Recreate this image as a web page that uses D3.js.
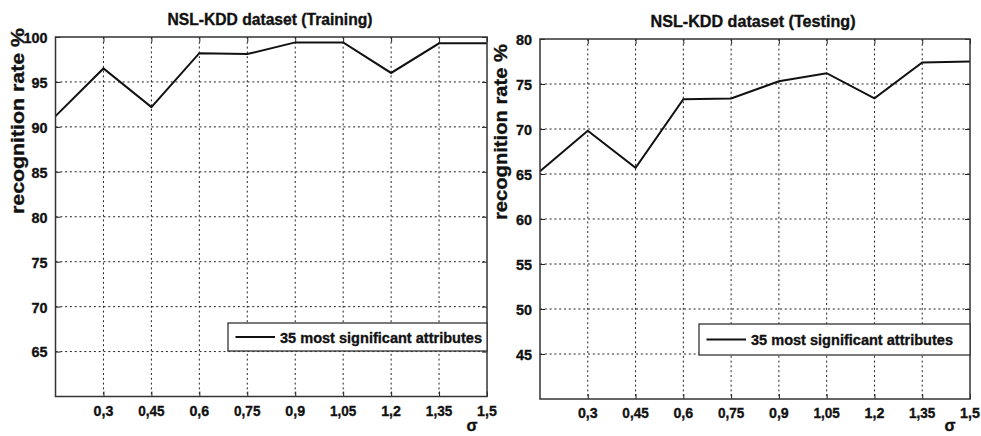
<!DOCTYPE html>
<html>
<head>
<meta charset="utf-8">
<script src="https://cdn.jsdelivr.net/npm/d3@7"></script>
<style>
  html, body { margin: 0; padding: 0; background: #fff; }
  svg { display: block; }
  text { font-family: "Liberation Sans", Arial, sans-serif; font-weight: bold; fill: #111; stroke: #111; stroke-width: 0.35px; }
</style>
</head>
<body>
<svg id="chart" width="981" height="436"></svg>
<script>
// ---- data ----
const sigma = [0.15, 0.3, 0.45, 0.6, 0.75, 0.9, 1.05, 1.2, 1.35, 1.5];
const xTickValues = [0.3, 0.45, 0.6, 0.75, 0.9, 1.05, 1.2, 1.35, 1.5];
const xTickLabels = ["0,3", "0,45", "0,6", "0,75", "0,9", "1,05", "1,2", "1,35", "1,5"];
const trainRate = [91.2, 96.5, 92.2, 98.2, 98.1, 99.4, 99.4, 96.0, 99.3, 99.3];
const testRate  = [65.3, 69.8, 65.7, 73.3, 73.4, 75.3, 76.2, 73.4, 77.4, 77.5];
const trainYTicks = [65, 70, 75, 80, 85, 90, 95, 100];
const testYTicks  = [45, 50, 55, 60, 65, 70, 75, 80];
const trainYDomain = [60, 100];
const testYDomain  = [40, 80];
const titles = ["NSL-KDD dataset (Training)", "NSL-KDD dataset (Testing)"];
const yLabel = "recognition rate %";
const xLabel = "σ";
const legendLabel = "35 most significant attributes";

const svg = d3.select("#chart");

const panels = [
  { title: titles[0], values: trainRate, yDomain: trainYDomain, yTicks: trainYTicks,
    left: 55.5, right: 487, top: 37, bottom: 396.5,
    titleX: 270, titleY: 25, yLabelX: 24, yLabelY: 121, yLabelLen: 186,
    legend: { x0: 228, x1: 487, y0: 323, y1: 351 }, sigmaX: 472, sigmaY: 431 },
  { title: titles[1], values: testRate, yDomain: testYDomain, yTicks: testYTicks,
    left: 540, right: 970, top: 39, bottom: 399,
    titleX: 753, titleY: 26.5, yLabelX: 507, yLabelY: 132, yLabelLen: 176,
    legend: { x0: 699, x1: 970, y0: 324, y1: 355 }, sigmaX: 950, sigmaY: 431 }
];

panels.forEach(p => {
  const x = d3.scaleLinear().domain([0.15, 1.5]).range([p.left, p.right]);
  const y = d3.scaleLinear().domain(p.yDomain).range([p.bottom, p.top]);
  const g = svg.append("g");

  // grid (dotted)
  g.append("g").selectAll("line").data(xTickValues.slice(0, -1)).join("line")
    .attr("x1", d => x(d)).attr("x2", d => x(d))
    .attr("y1", p.top).attr("y2", p.bottom)
    .attr("stroke", "#222").attr("stroke-width", 1).attr("stroke-dasharray", "2,2.8");
  g.append("g").selectAll("line").data(p.yTicks.filter(v => v < p.yDomain[1])).join("line")
    .attr("x1", p.left).attr("x2", p.right)
    .attr("y1", d => y(d)).attr("y2", d => y(d))
    .attr("stroke", "#222").attr("stroke-width", 1).attr("stroke-dasharray", "2,2.8");

  // inner tick marks (MATLAB style)
  const xAxisB = d3.axisBottom(x).tickValues(xTickValues).tickSizeInner(-5).tickSizeOuter(0).tickFormat("");
  g.append("g").attr("transform", `translate(0,${p.bottom})`).call(xAxisB)
    .call(s => s.select(".domain").remove())
    .call(s => s.selectAll("line").attr("stroke", "#222"));
  const xAxisT = d3.axisTop(x).tickValues(xTickValues).tickSizeInner(-5).tickSizeOuter(0).tickFormat("");
  g.append("g").attr("transform", `translate(0,${p.top})`).call(xAxisT)
    .call(s => s.select(".domain").remove())
    .call(s => s.selectAll("line").attr("stroke", "#222"));
  const yAxisL = d3.axisLeft(y).tickValues(p.yTicks).tickSizeInner(-5).tickSizeOuter(0).tickPadding(8).tickFormat(d3.format("d"));
  g.append("g").attr("transform", `translate(${p.left},0)`).call(yAxisL)
    .call(s => s.select(".domain").remove())
    .call(s => s.selectAll("line").attr("stroke", "#222"))
    .call(s => s.selectAll("text").attr("font-size", 15).attr("font-family", "Liberation Sans, Arial, sans-serif")
      .attr("font-weight", "bold").attr("fill", "#111").attr("dy", "0.36em")
      .attr("textLength", d => d >= 100 ? 24 : 16).attr("lengthAdjust", "spacingAndGlyphs"));
  const yAxisR = d3.axisRight(y).tickValues(p.yTicks).tickSizeInner(-5).tickSizeOuter(0).tickFormat("");
  g.append("g").attr("transform", `translate(${p.right},0)`).call(yAxisR)
    .call(s => s.select(".domain").remove())
    .call(s => s.selectAll("line").attr("stroke", "#222"));

  // x tick labels
  g.append("g").selectAll("text").data(xTickValues).join("text")
    .attr("x", d => x(d)).attr("y", p.bottom + 19)
    .attr("text-anchor", "middle").attr("font-size", 15)
    .attr("textLength", (d, i) => xTickLabels[i].length * 6.6).attr("lengthAdjust", "spacingAndGlyphs")
    .text((d, i) => xTickLabels[i]);

  // line
  const line = d3.line().x((d, i) => x(sigma[i])).y(d => y(d));
  g.append("path").datum(p.values).attr("d", line)
    .attr("fill", "none").attr("stroke", "#111").attr("stroke-width", 2).attr("stroke-linejoin", "miter");

  // box
  g.append("rect").attr("x", p.left).attr("y", p.top)
    .attr("width", p.right - p.left).attr("height", p.bottom - p.top)
    .attr("fill", "none").attr("stroke", "#333").attr("stroke-width", 1.5);

  // legend
  const L = p.legend;
  g.append("rect").attr("x", L.x0).attr("y", L.y0).attr("width", L.x1 - L.x0).attr("height", L.y1 - L.y0)
    .attr("fill", "#fff").attr("stroke", "#333").attr("stroke-width", 1.3);
  const ly = (L.y0 + L.y1) / 2;
  g.append("line").attr("x1", L.x0 + 7.5).attr("x2", L.x0 + 47).attr("y1", ly).attr("y2", ly)
    .attr("stroke", "#111").attr("stroke-width", 2);
  g.append("text").attr("x", L.x0 + 52).attr("y", ly).attr("dy", "0.36em")
    .attr("font-size", 15.5).attr("textLength", 202).attr("lengthAdjust", "spacingAndGlyphs")
    .text(legendLabel);

  // title
  g.append("text").attr("x", p.titleX).attr("y", p.titleY).attr("text-anchor", "middle")
    .attr("font-size", 16).attr("textLength", 205).attr("lengthAdjust", "spacingAndGlyphs")
    .text(p.title);

  // y label
  g.append("text").attr("transform", `translate(${p.yLabelX},${p.yLabelY}) rotate(-90)`)
    .attr("text-anchor", "middle").attr("font-size", 19)
    .attr("textLength", p.yLabelLen).attr("lengthAdjust", "spacingAndGlyphs")
    .text(yLabel);

  // sigma
  g.append("text").attr("x", p.sigmaX).attr("y", p.sigmaY).attr("text-anchor", "middle")
    .attr("font-size", 16).text(xLabel);
});
</script>
</body>
</html>
